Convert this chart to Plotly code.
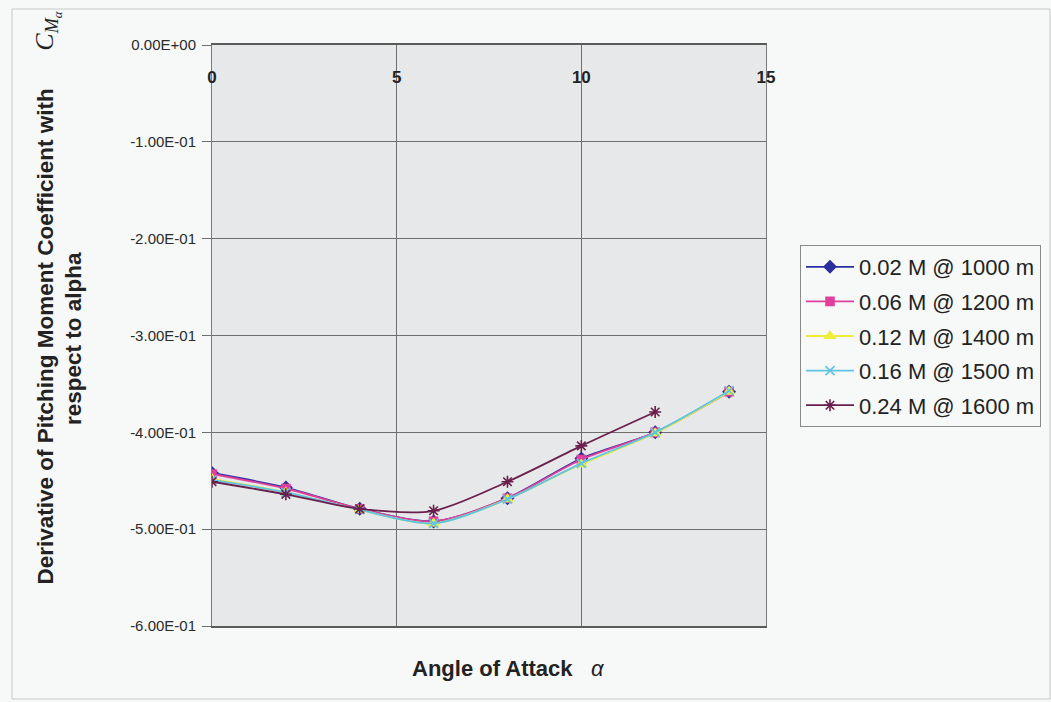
import plotly.graph_objects as go

# ---- data ----
alpha = [0, 2, 4, 6, 8, 10, 12, 14]
alpha_024 = [0, 2, 4, 6, 8, 10, 12]

cm_002 = [-0.442, -0.457, -0.479, -0.492, -0.468, -0.427, -0.400, -0.358]
cm_006 = [-0.443, -0.458, -0.479, -0.492, -0.468, -0.428, -0.400, -0.358]
cm_012 = [-0.448, -0.462, -0.480, -0.494, -0.469, -0.433, -0.401, -0.358]
cm_016 = [-0.449, -0.462, -0.480, -0.494, -0.469, -0.432, -0.400, -0.357]
cm_024 = [-0.451, -0.464, -0.479, -0.481, -0.451, -0.414, -0.379]

series_names = ["0.02 M @ 1000 m", "0.06 M @ 1200 m", "0.12 M @ 1400 m",
                "0.16 M @ 1500 m", "0.24 M @ 1600 m"]

y_tickvals = [0, -0.1, -0.2, -0.3, -0.4, -0.5, -0.6]
y_ticktext = ["0.00E+00", "-1.00E-01", "-2.00E-01", "-3.00E-01",
              "-4.00E-01", "-5.00E-01", "-6.00E-01"]
x_tickvals = [0, 5, 10, 15]
x_ticktext = ["0", "5", "10", "15"]

# ---- styles ----
styles = [
    dict(color="#2b2f9e", symbol="diamond", size=9),
    dict(color="#e0409c", symbol="square", size=8),
    dict(color="#eeee3a", symbol="triangle-up", size=9),
    dict(color="#5ec4e4", symbol="x-thin-open", size=9),
    dict(color="#6a1f4c", symbol="asterisk-open", size=10),
]
xs = [alpha, alpha, alpha, alpha, alpha_024]
ys = [cm_002, cm_006, cm_012, cm_016, cm_024]

FONT = "Liberation Sans, Arial, sans-serif"

fig = go.Figure()
for i, (name, x, y, st) in enumerate(zip(series_names, xs, ys, styles)):
    fig.add_trace(go.Scatter(
        x=x, y=y, name=name, mode="lines+markers",
        legendgroup=f"g{i}",
        line=dict(color=st["color"], width=1.8, shape="spline", smoothing=0.8),
        marker=dict(symbol=st["symbol"], size=st["size"], color=st["color"],
                    line=dict(color=st["color"], width=1.6)),
    ))

L, R, T, B = 212, 285, 45, 76
PW, PH = 1051 - L - R, 702 - T - B
fig.update_layout(
    width=1051, height=702,
    margin=dict(l=L, r=R, t=T, b=B, autoexpand=False),
    paper_bgcolor="#f7f8f8",
    plot_bgcolor="#e7e8e9",
    font=dict(family=FONT, color="#222222"),
    showlegend=True,
    legend=dict(
        x=(800 - L) / PW, y=1 - (245 - T) / PH,
        xanchor="left", yanchor="top",
        bgcolor="#f7f8f8", bordercolor="#8a8a8a", borderwidth=1,
        font=dict(family=FONT, size=22, color="#222222"),
        itemwidth=48, tracegroupgap=3,
    ),
    xaxis=dict(
        range=[0, 15], tickvals=x_tickvals, ticktext=x_ticktext,
        side="top", ticklabelposition="inside", ticklabeloverflow="allow",
        ticklabelstandoff=27,
        tickfont=dict(family=FONT, size=17, color="#222222", weight="bold"),
        ticks="", showgrid=True, gridcolor="#6e6e6e", gridwidth=1,
        showline=True, linecolor="#5a5a5a", linewidth=1.5, mirror=True,
        zeroline=False,
    ),
    yaxis=dict(
        range=[-0.6, 0], tickvals=y_tickvals, ticktext=y_ticktext,
        tickfont=dict(family=FONT, size=15, color="#2a2a2a"),
        ticks="outside", ticklen=9, tickcolor="#6e6e6e", ticklabelstandoff=3,
        showgrid=True, gridcolor="#6e6e6e", gridwidth=1,
        showline=True, linecolor="#7a7a7a", linewidth=1, mirror=True,
        zeroline=False,
    ),
)

NB = "\u00a0"
# Y-axis title, line 1 with the C_M_alpha symbol at its end (rotated)
fig.add_annotation(
    xref="paper", yref="paper", x=(47 - L) / PW, y=-(587 - 626) / PH,
    xanchor="center", yanchor="bottom",
    text=("<b>Derivative of Pitching Moment Coefficient with</b>" + NB * 6 +
          "<span style='font-family:Liberation Serif, serif;font-size:26px'>"
          "<i>C<sub>M<sub>α</sub></sub></i></span>"),
    textangle=-90, showarrow=False,
    font=dict(family=FONT, size=22.5, color="#222222"),
)
# Y-axis title, line 2
fig.add_annotation(
    xref="paper", yref="paper", x=(73 - L) / PW, y=1 - (339 - T) / PH,
    xanchor="center", yanchor="middle",
    text="<b>respect to alpha</b>",
    textangle=-90, showarrow=False,
    font=dict(family=FONT, size=22.5, color="#222222"),
)
fig.add_annotation(
    xref="paper", yref="paper", x=(508 - L) / PW, y=-(668 - 626) / PH,
    xanchor="center", yanchor="middle",
    text="<b>Angle of Attack</b>" + NB * 3 + "<i>α</i>",
    showarrow=False,
    font=dict(family=FONT, size=22, color="#222222"),
)

# faint outer frame of the figure
fig.add_shape(type="rect", xref="paper", yref="paper",
              x0=-(L - 12) / PW, x1=(1050 - L) / PW,
              y0=-(699 - 626) / PH, y1=1 + (T - 9) / PH,
              line=dict(color="#c8c8c8", width=1), layer="below")

fig.write_html("out.html")
